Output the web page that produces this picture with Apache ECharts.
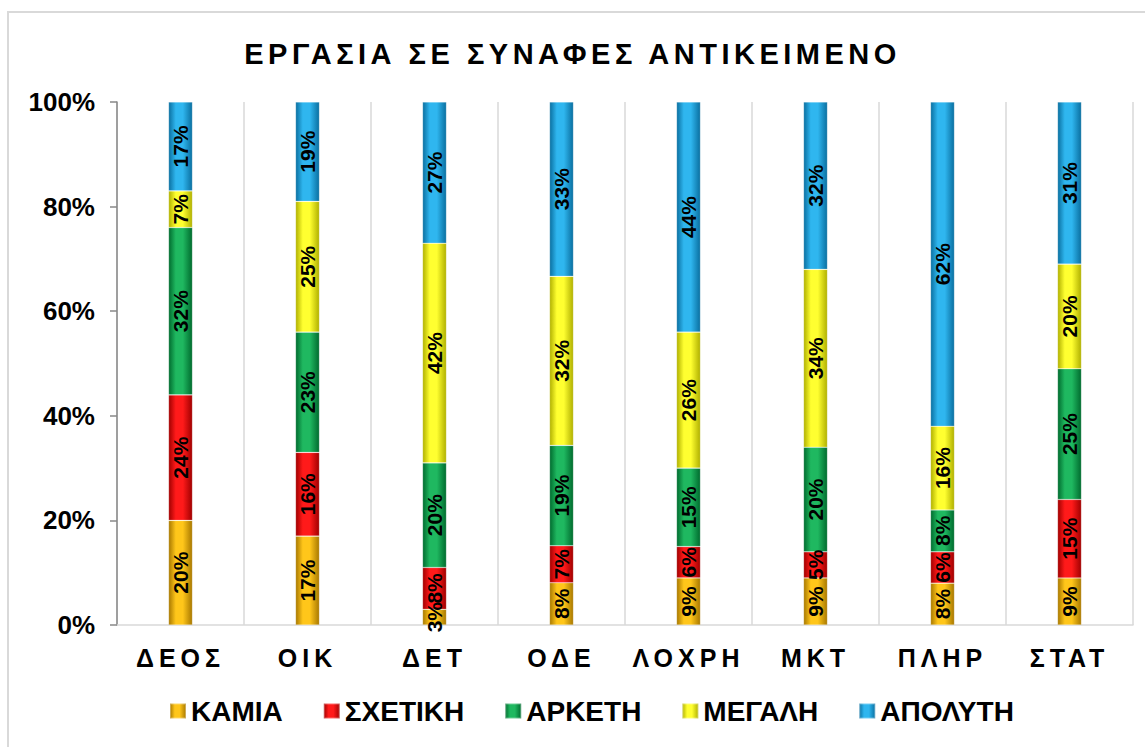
<!DOCTYPE html>
<html>
<head>
<meta charset="utf-8">
<script src="https://cdn.jsdelivr.net/npm/echarts@6/dist/echarts.min.js"></script>
<style>
  html, body { margin: 0; padding: 0; background: #fff; overflow: hidden; }
  #chart { width: 1145px; height: 747px; }
  /* letter spacing for title and category labels (svg renderer) */
  #chart svg text[style*="29px"] { letter-spacing: 4.5px; }
  #chart svg text[style*="25px"] { letter-spacing: 5px; }
</style>
</head>
<body>
<div id="chart"></div>
<script>
const categories = ['ΔΕΟΣ', 'ΟΙΚ', 'ΔΕΤ', 'ΟΔΕ', 'ΛΟΧΡΗ', 'ΜΚΤ', 'ΠΛΗΡ', 'ΣΤΑΤ']
const seriesNames = ['ΚΑΜΙΑ', 'ΣΧΕΤΙΚΗ', 'ΑΡΚΕΤΗ', 'ΜΕΓΑΛΗ', 'ΑΠΟΛΥΤΗ']
const kamia = [20, 17, 3, 8, 9, 9, 8, 9]
const sxetiki = [24, 16, 8, 7, 6, 5, 6, 15]
const arketi = [32, 23, 20, 19, 15, 20, 8, 25]
const megali = [7, 25, 42, 32, 26, 34, 16, 20]
const apolyti = [17, 19, 27, 33, 44, 32, 62, 31]
const yTicks = [0, 20, 40, 60, 80, 100]

const values = [kamia, sxetiki, arketi, megali, apolyti]
// edge / light colours for the bevelled bars
const colors = [
  ['#a87800', '#ffc61a'],
  ['#a00000', '#ff1a1a'],
  ['#006b2e', '#1fb860'],
  ['#b0b000', '#ffff30'],
  ['#0a6fa0', '#2fb6ef']
]

const totals = categories.map((c, i) => values.reduce((s, arr) => s + arr[i], 0))

function bevel(c) {
  return {
    type: 'linear', x: 0, y: 0, x2: 1, y2: 0,
    colorStops: [
      { offset: 0, color: c[0] },
      { offset: 0.3, color: c[1] },
      { offset: 0.6, color: c[1] },
      { offset: 1, color: c[0] }
    ]
  }
}

const font = 'Liberation Sans, Arial, sans-serif'

const series = seriesNames.map((name, k) => ({
  name: name,
  type: 'bar',
  stack: 'total',
  barWidth: 24,
  itemStyle: { color: bevel(colors[k]), borderColor: 'rgba(255,255,255,0.35)', borderWidth: 0.6 },
  label: {
    show: true,
    position: 'inside',
    rotate: 90,
    color: '#000',
    fontSize: 21,
    fontWeight: 'bold',
    fontFamily: font,
    formatter: p => p.data.raw + '%'
  },
  data: values[k].map((v, i) => ({ value: v / totals[i] * 100, raw: v }))
}))

const chart = echarts.init(document.getElementById('chart'), null, { renderer: 'svg' })
chart.setOption({
  animation: false,
  title: {
    text: 'ΕΡΓΑΣΙΑ ΣΕ ΣΥΝΑΦΕΣ ΑΝΤΙΚΕΙΜΕΝΟ',
    left: 'center',
    top: 34,
    textStyle: { color: '#000', fontSize: 29, fontWeight: 'bold', fontFamily: font }
  },
  graphic: [{
    type: 'rect',
    shape: { x: 8, y: 12, width: 1200, height: 800 },
    style: { fill: 'none', stroke: '#d9d9d9', lineWidth: 2 },
    silent: true
  }],
  legend: {
    bottom: 17,
    left: 164,
    itemWidth: 16,
    itemHeight: 15,
    itemGap: 40,
    icon: 'rect',
    textStyle: { color: '#000', fontSize: 28, fontWeight: 'bold', fontFamily: font },
    data: seriesNames
  },
  grid: { left: 117, right: 12, top: 102, bottom: 122 },
  xAxis: {
    type: 'category',
    data: categories,
    axisLine: { lineStyle: { color: '#d9d9d9', width: 1.5 } },
    axisTick: { show: false },
    splitLine: { show: true, lineStyle: { color: '#d9d9d9', width: 1.5 } },
    axisLabel: { color: '#000', fontSize: 25, fontWeight: 'bold', fontFamily: font, margin: 20 }
  },
  yAxis: {
    type: 'value',
    min: yTicks[0],
    max: yTicks[yTicks.length - 1],
    interval: yTicks[1] - yTicks[0],
    axisLine: { show: true, lineStyle: { color: '#888', width: 1.5 } },
    axisTick: { show: true, length: 7, lineStyle: { color: '#888', width: 1.5 } },
    splitLine: { show: false },
    axisLabel: { color: '#000', fontSize: 26, fontWeight: 'bold', fontFamily: font, margin: 22, formatter: '{value}%' }
  },
  series: series
})
</script>
</body>
</html>
